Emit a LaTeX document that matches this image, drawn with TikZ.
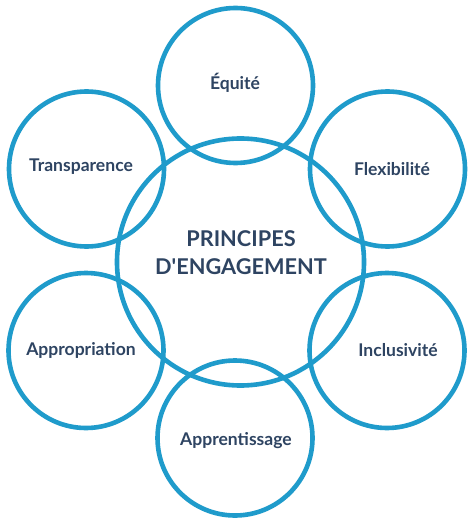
\documentclass[tikz,border=0pt]{standalone}
\usepackage{fontspec}
\setmainfont{Lato}
\definecolor{ringblue}{HTML}{1F9BCB}
\definecolor{textnavy}{HTML}{2E4462}
\begin{document}
\begin{tikzpicture}[x=1bp,y=-1bp,
  ring/.style={draw=ringblue,line width=4.6bp,circle,inner sep=0pt},
  lbl/.style={text=textnavy,font=\bfseries\fontsize{17.6}{20}\selectfont,inner sep=0pt},
  center lbl/.style={text=textnavy,font=\bfseries\fontsize{21.8}{28}\selectfont,align=center,inner sep=0pt}]
\useasboundingbox (0,0) rectangle (474,523);
\fill[white] (0,0) rectangle (474,523);
\node[ring,minimum size=247bp] (c) at (240.5,262) {};
\node[ring,minimum size=155bp] (t) at (235.5,85.5) {};
\node[ring,minimum size=155bp] (tl) at (86.5,169) {};
\node[ring,minimum size=155bp] (tr) at (387.5,169) {};
\node[ring,minimum size=155bp] (bl) at (86,350.5) {};
\node[ring,minimum size=155bp] (br) at (387,350.5) {};
\node[ring,minimum size=155bp] (b) at (235,438) {};
\node[center lbl] (ct) at (241,253) {PRINCIPES\\D\textquotesingle ENGAGEMENT};
\node[lbl] (tt) at (235,83) {Équité};
\node[lbl] (tlt) at (81,167) {Transparence};
\node[lbl] (trt) at (392,169) {Flexibilité};
\node[lbl] (blt) at (81,350) {Appropriation};
\node[lbl] (brt) at (398,350) {Inclusivité};
\node[lbl] (bt) at (236,441) {Apprentissage};
\end{tikzpicture}
\end{document}
